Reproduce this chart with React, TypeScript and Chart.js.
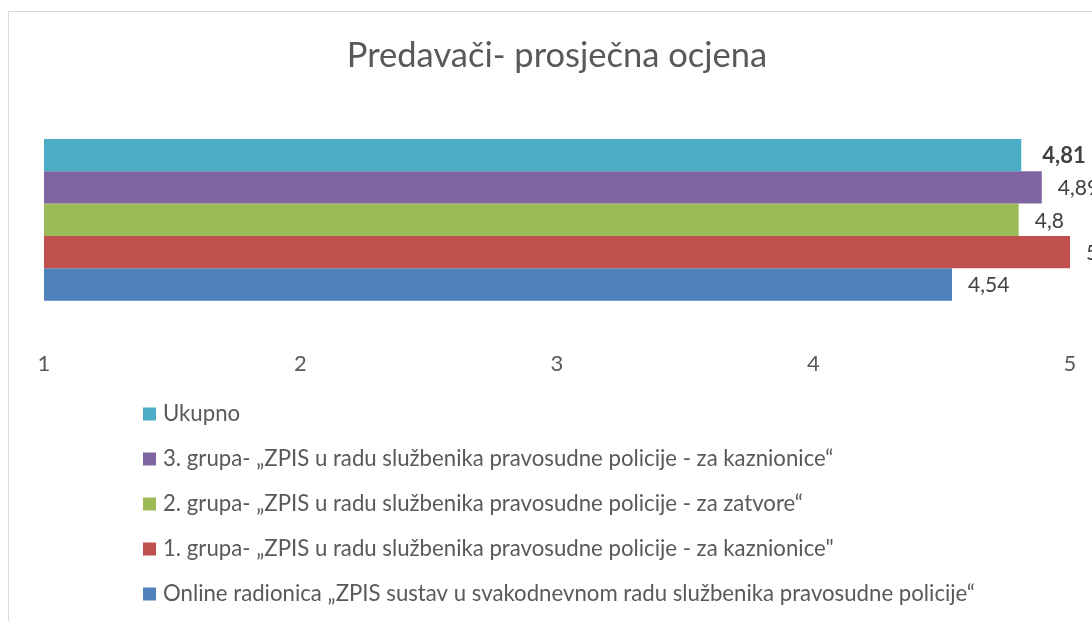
import React, { useEffect, useRef } from "react";
import { Chart, registerables } from "chart.js";

Chart.register(...registerables);

const categories = ["Predavači"];
const seriesNames = [
  "Ukupno",
  "3. grupa- „ZPIS u radu službenika pravosudne policije - za kaznionice“",
  "2. grupa- „ZPIS u radu službenika pravosudne policije - za zatvore“",
  "1. grupa- „ZPIS u radu službenika pravosudne policije - za kaznionice\"",
  "Online radionica „ZPIS sustav u svakodnevnom radu službenika pravosudne policije“",
];
const seriesValues = [4.81, 4.89, 4.8, 5, 4.54];
const seriesColors = ["#4BACC6", "#8064A2", "#9BBB59", "#C0504D", "#4F81BD"];
const tickValues = [1, 2, 3, 4, 5];
const titleText = "Predavači- prosječna ocjena";

const FONT = "Lato";
const TEXT = "#595959";

const labelPlugin = {
  id: "valueLabels",
  afterDatasetsDraw(chart: any) {
    const ctx = chart.ctx;
    ctx.save();
    chart.data.datasets.forEach((ds: any, i: number) => {
      const meta = chart.getDatasetMeta(i);
      meta.data.forEach((bar: any, j: number) => {
        const v = ds.data[j];
        const txt = String(v).replace(".", ",");
        const bold = i === 0;
        ctx.font = (bold ? "bold 22px " : "21px ") + FONT;
        ctx.fillStyle = "#404040";
        ctx.textAlign = "left";
        ctx.textBaseline = "middle";
        ctx.fillText(txt, bar.x + (bold ? 21 : 16), bar.y + 1);
      });
    });
    ctx.restore();
  },
};

const legendPlugin = {
  id: "vertLegend",
  afterDraw(chart: any) {
    const ctx = chart.ctx;
    ctx.save();
    const startY = 414;
    const step = 45;
    chart.data.datasets.forEach((ds: any, i: number) => {
      const cy = startY + i * step;
      ctx.fillStyle = ds.backgroundColor;
      ctx.fillRect(143, cy - 6.5, 13, 13);
      ctx.font = "22.2px " + FONT;
      ctx.fillStyle = TEXT;
      ctx.textAlign = "left";
      ctx.textBaseline = "middle";
      ctx.fillText(ds.label, 163, cy);
    });
    ctx.restore();
  },
};

export default function App() {
  const ref = useRef<HTMLCanvasElement>(null);
  useEffect(() => {
    document.body.style.overflow = "hidden";
    const chart = new Chart(ref.current!, {
      type: "bar",
      data: {
        labels: categories,
        datasets: seriesNames.map((name, i) => ({
          label: name,
          data: [seriesValues[i]],
          backgroundColor: seriesColors[i],
          borderWidth: 0,
        })),
      },
      options: {
        indexAxis: "y",
        animation: false,
        responsive: false,
        maintainAspectRatio: false,
        layout: { padding: { left: 44, right: 22, top: 0, bottom: 232 } },
        scales: {
          x: {
            min: 1,
            max: 5,
            afterBuildTicks(scale: any) {
              scale.ticks = tickValues.map((v) => ({ value: v }));
            },
            grid: { display: false, drawTicks: false },
            border: { display: false },
            ticks: {
              padding: 12,
              color: TEXT,
              font: { family: FONT, size: 22 },
            },
          },
          y: {
            display: false,
            grid: { display: false },
          },
        },
        datasets: {
          bar: { barPercentage: 1, categoryPercentage: 0.681 },
        },
        plugins: {
          legend: { display: false },
          tooltip: { enabled: false },
          title: {
            display: true,
            text: titleText,
            color: TEXT,
            font: { family: FONT, size: 34.5, weight: "normal" },
            padding: { top: 35, bottom: 24.6 },
          },
        },
      } as any,
      plugins: [labelPlugin, legendPlugin],
    });
    return () => chart.destroy();
  }, []);
  return (
    <div style={{ position: "fixed", left: 0, top: 0, width: 1092, height: 621, overflow: "hidden", background: "#fff" }}>
      <div
        style={{
          position: "absolute",
          left: 8,
          top: 11,
          width: 1200,
          height: 700,
          border: "1px solid #d9d9d9",
          boxSizing: "border-box",
        }}
      />
      <canvas ref={ref} width={1092} height={621} style={{ position: "absolute", left: 0, top: 0 }} />
    </div>
  );
}
